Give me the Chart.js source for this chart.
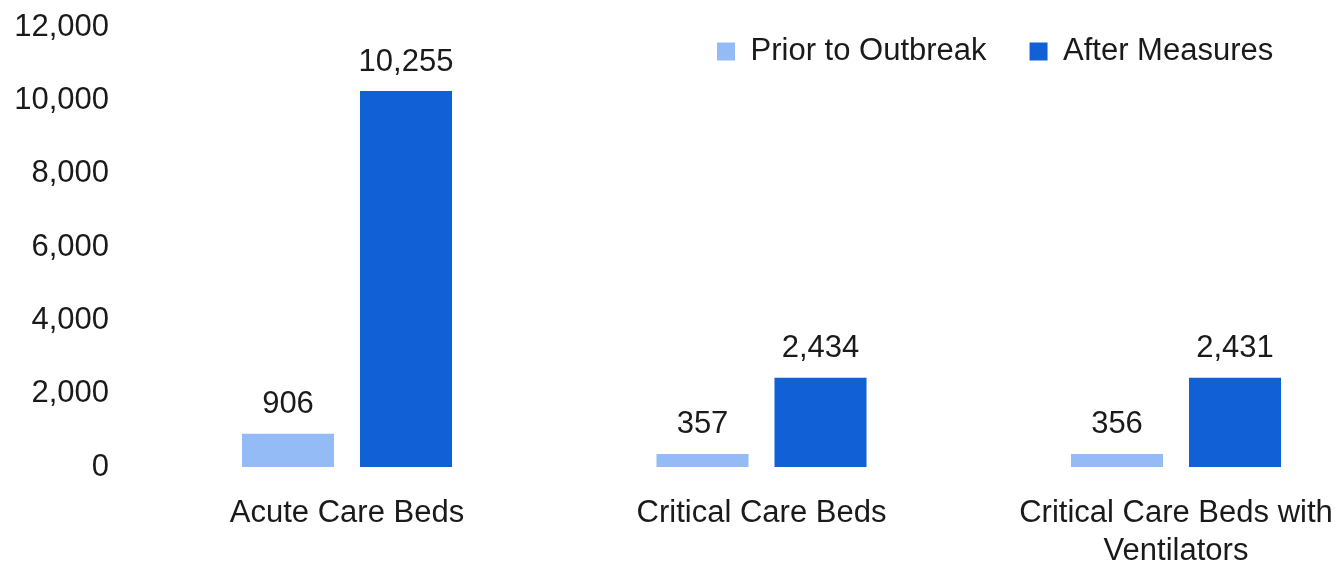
<!DOCTYPE html>
<html>
<head>
<meta charset="utf-8">
<script src="https://cdn.jsdelivr.net/npm/chart.js@4/dist/chart.umd.min.js"></script>
<style>
  html, body { margin: 0; padding: 0; background: #ffffff; }
  canvas { display: block; }
</style>
</head>
<body>
<canvas id="c" width="1340" height="563" style="width:1340px;height:563px"></canvas>
<script>
const categories = ['Acute Care Beds', 'Critical Care Beds', ['Critical Care Beds with', 'Ventilators']];
const seriesNames = ['Prior to Outbreak', 'After Measures'];
const priorValues = [906, 357, 356];
const afterValues = [10255, 2434, 2431];
const yTicks = [0, 2000, 4000, 6000, 8000, 10000, 12000];

const FONT = '"Liberation Sans", Arial, sans-serif';
const TEXT = '#1a1a1a';
const fmt = v => Number(v).toLocaleString('en-US');

const valueLabels = {
  id: 'valueLabels',
  afterDatasetsDraw(chart) {
    const ctx = chart.ctx;
    ctx.save();
    ctx.font = '31px ' + FONT;
    ctx.fillStyle = TEXT;
    ctx.textAlign = 'center';
    ctx.textBaseline = 'middle';
    chart.data.datasets.forEach((ds, i) => {
      chart.getDatasetMeta(i).data.forEach((bar, j) => {
        ctx.fillText(fmt(ds.data[j]), bar.x, bar.y - 29);
      });
    });
    ctx.restore();
  }
};

const legendPlace = {
  id: 'legendPlace',
  beforeLayout(chart) {
    const l = chart.legend;
    if (l && !l._overlayPatched) {
      const origFit = l.fit.bind(l);
      l.fit = function () {
        origFit();
        this._realHeight = this.height;
        this.height = 0;
      };
      l._overlayPatched = true;
    }
  },
  afterLayout(chart) {
    const l = chart.legend;
    if (!l) return;
    const pad = l.options.labels.padding;
    l.left = 717 - pad;
    l.right = 1340;
    l.top = 36 - pad;
    l.height = (l._realHeight || 120) + 40;
    l.width = l.right - l.left;
    l.bottom = l.top + l.height;
  }
};

new Chart(document.getElementById('c'), {
  type: 'bar',
  data: {
    labels: categories,
    datasets: [
      { label: seriesNames[0], data: priorValues, backgroundColor: '#95BBF7', borderWidth: 0, clip: false },
      { label: seriesNames[1], data: afterValues, backgroundColor: '#1160D5', borderWidth: 0, clip: false }
    ]
  },
  options: {
    responsive: false,
    animation: false,
    devicePixelRatio: 1,
    categoryPercentage: 0.5694,
    barPercentage: 0.78,
    layout: { padding: { top: 27, right: 164, bottom: 0, left: 0 } },
    plugins: {
      legend: {
        position: 'top',
        align: 'start',
        labels: {
          boxWidth: 18,
          boxHeight: 18,
          padding: 43,
          color: TEXT,
          font: { family: FONT, size: 31 }
        }
      },
      tooltip: { enabled: false }
    },
    scales: {
      x: {
        offset: false,
        grid: { display: false, drawTicks: false },
        border: { display: false },
        ticks: {
          color: TEXT,
          padding: 28,
          maxRotation: 0,
          autoSkip: false,
          font: { family: FONT, size: 31, lineHeight: 1.22 }
        },
        afterFit(scale) {
          scale.height = 96;
          scale.paddingLeft = 0;
          scale.paddingRight = 0;
        }
      },
      y: {
        min: 0,
        max: 12000,
        grid: { display: false, drawTicks: false },
        border: { display: false },
        afterBuildTicks(scale) { scale.ticks = yTicks.map(v => ({ value: v })); },
        ticks: {
          color: TEXT,
          padding: 238,
          font: { family: FONT, size: 31 },
          callback: v => fmt(v)
        },
        afterFit(scale) {
          scale.width = 347;
          scale.paddingTop = 0;
          scale.paddingBottom = 0;
        }
      }
    }
  },
  plugins: [valueLabels, legendPlace]
});
</script>
</body>
</html>
